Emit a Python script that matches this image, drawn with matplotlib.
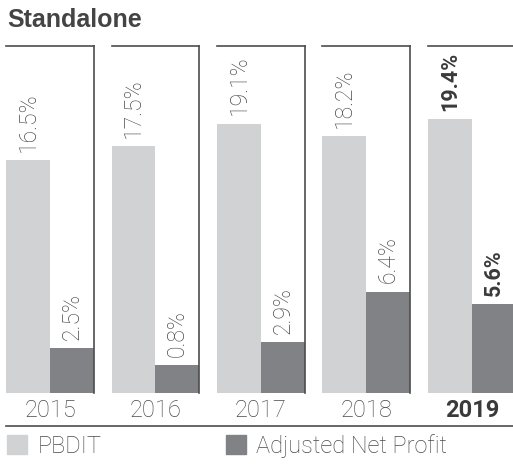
import matplotlib
matplotlib.use("Agg")
import matplotlib.pyplot as plt
import matplotlib.patches as mpatches
import numpy as np

plt.rcParams["font.family"] = ["Roboto", "DejaVu Sans"]

years = ["2015", "2016", "2017", "2018", "2019"]
pbdit = [16.5, 17.5, 19.1, 18.2, 19.4]
net_profit = [2.5, 0.8, 2.9, 6.4, 5.6]
# drawn heights of the net profit bars in the reference (not to scale)
net_profit_drawn = [3.2, 2.0, 3.6, 7.2, 6.3]

LIGHT = "#d1d2d4"
DARK = "#808285"
TEXT = "#4a4a4a"
BOLD_TEXT = "#3a3a3a"
LINE = "#4d4d4d"

fig = plt.figure(figsize=(5.13, 4.68), dpi=100)
ax = fig.add_axes([0, 0.160, 1, 0.7415])

x = np.arange(len(years))
w = 0.417
top = 24.6

ax.bar(x - w / 2, pbdit, w, color=LIGHT)
ax.bar(x + w / 2, net_profit_drawn, w, color=DARK)

for i in range(len(years)):
    bold = i == len(years) - 1
    weight = "bold" if bold else "light"
    color = BOLD_TEXT if bold else TEXT
    size = 15.5 if bold else 16.5
    # panel frame: top and right edges
    ax.plot([i - w, i + w], [top, top], color=LINE, lw=1.2, clip_on=False)
    ax.plot([i + w, i + w], [0, top], color=LINE, lw=1.2, clip_on=False)
    ax.annotate(f"{pbdit[i]}%", (i - w / 2, pbdit[i]), xytext=(0, 6),
                textcoords="offset points", rotation=90, ha="center", va="bottom",
                fontsize=size, color=color, fontweight=weight)
    ax.annotate(f"{net_profit[i]}%", (i + w / 2, net_profit_drawn[i]), xytext=(0, 6),
                textcoords="offset points", rotation=90, ha="center", va="bottom",
                fontsize=size, color=color, fontweight=weight)
    ax.text(i, -1.2, years[i], ha="center", va="center", fontsize=17,
            color=color, fontweight=weight)

ax.plot([-w, 4.5], [-2.34, -2.34], color=LINE, lw=1.2, clip_on=False)

ax.set_xlim(-0.474, 4.389)
ax.set_ylim(0, top)
ax.axis("off")

fig.text(0.014, 0.957, "Standalone", fontsize=18, fontweight="bold",
         family="Liberation Sans", color="#444444", va="center", ha="left")

handles = [mpatches.Patch(color=LIGHT, label="PBDIT"),
           mpatches.Patch(color=DARK, label="Adjusted Net Profit")]
leg = fig.legend(handles=handles, loc="center left", bbox_to_anchor=(0.0136, 0.047),
                 ncol=2, frameon=False, handlelength=0.85, handleheight=0.85,
                 handletextpad=0.45, columnspacing=5.25, borderpad=0, borderaxespad=0,
                 prop={"size": 17, "weight": "light"})
for t in leg.get_texts():
    t.set_color(TEXT)

fig.savefig("out.png", dpi=100)
